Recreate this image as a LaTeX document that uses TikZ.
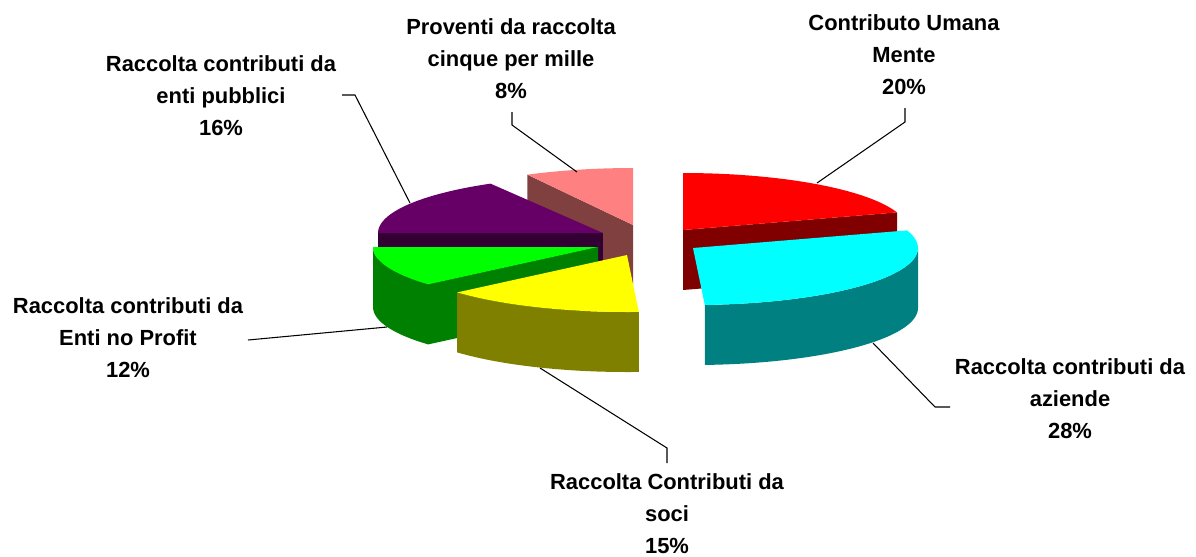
\documentclass[tikz,border=0pt]{standalone}
\usepackage{fontspec}
\setmainfont{Liberation Sans}
\definecolor{pinktop}{HTML}{FF8080}
\definecolor{pinkside}{HTML}{804040}
\definecolor{redtop}{HTML}{FF0000}
\definecolor{redside}{HTML}{800000}
\definecolor{purtop}{HTML}{660066}
\definecolor{purside}{HTML}{330033}
\definecolor{grntop}{HTML}{00FF00}
\definecolor{grnside}{HTML}{008000}
\definecolor{yeltop}{HTML}{FFFF00}
\definecolor{yelside}{HTML}{808000}
\definecolor{cyntop}{HTML}{00FFFF}
\definecolor{cynside}{HTML}{008080}
\begin{document}
\begin{tikzpicture}[x=0.02cm,y=-0.02cm,
  lbl/.style={font=\fontsize{12.47}{18.2}\selectfont\bfseries, align=center, inner sep=0pt},
  leader/.style={draw=black, line width=0.6pt}]
\useasboundingbox (0,0) rectangle (1196,556);

% ---- pink slice (apex 633,225) ----
\fill[pinkside] (633,225) -- ({633+225*sin(332)},{225-57*cos(332)}) -- ({633+225*sin(332)},{285-57*cos(332)}) -- (633,285) -- cycle;
\fill[pinktop] (633,225) -- plot[domain=332:360,samples=20] ({633+225*sin(\x)},{225-57*cos(\x)}) -- cycle;

% ---- red slice (apex 683,230) ----
\fill[redside] (683,230) -- ({683+225*sin(72)},{230-57*cos(72)}) -- ({683+225*sin(72)},{290-57*cos(72)}) -- (683,290) -- cycle;
\fill[redtop] (683,230) -- plot[domain=0:72,samples=30] ({683+225*sin(\x)},{230-57*cos(\x)}) -- cycle;

% ---- purple slice (apex 603,233) ----
\fill[purside] (603,233) -- (378,233) -- (378,293) -- (603,293) -- cycle;
\fill[purtop] (603,233) -- plot[domain=270:330,samples=30] ({603+225*sin(\x)},{233-57*cos(\x)}) -- cycle;

% ---- green slice (apex 598,247) ----
\fill[grnside] plot[domain=229:270,samples=25] ({598+225*sin(\x)},{247-57*cos(\x)}) -- plot[domain=270:229,samples=25] ({598+225*sin(\x)},{307-57*cos(\x)}) -- cycle;
\fill[grnside] (598,247) -- ({598+225*sin(229)},{247-57*cos(229)}) -- ({598+225*sin(229)},{307-57*cos(229)}) -- (598,307) -- cycle;
\fill[grntop] (598,247) -- plot[domain=229:270,samples=25] ({598+225*sin(\x)},{247-57*cos(\x)}) -- cycle;

% ---- yellow slice (apex 627,255) ----
\fill[yelside] plot[domain=177:229,samples=25] ({627+225*sin(\x)},{255-57*cos(\x)}) -- plot[domain=229:177,samples=25] ({627+225*sin(\x)},{315-57*cos(\x)}) -- cycle;
\fill[yeltop] (627,255) -- plot[domain=177:229,samples=25] ({627+225*sin(\x)},{255-57*cos(\x)}) -- cycle;

% ---- cyan slice (apex 693,248) ----
\fill[cynside] plot[domain=90:177,samples=35] ({693+225*sin(\x)},{248-57*cos(\x)}) -- plot[domain=177:90,samples=35] ({693+225*sin(\x)},{308-57*cos(\x)}) -- cycle;
\fill[cyntop] (693,248) -- plot[domain=72:177,samples=40] ({693+225*sin(\x)},{248-57*cos(\x)}) -- cycle;

% ---- labels ----
\node[lbl] (lpub) at (221,96) {Raccolta contributi da\\enti pubblici\\16\%};
\node[lbl] (lcin) at (511,59) {Proventi da raccolta\\cinque per mille\\8\%};
\node[lbl] (lum) at (904,55) {Contributo Umana\\Mente\\20\%};
\node[lbl] (laz) at (1070,399) {Raccolta contributi da\\aziende\\28\%};
\node[lbl] (lsoc) at (667,514) {Raccolta Contributi da\\soci\\15\%};
\node[lbl] (lnp) at (128,338) {Raccolta contributi da\\Enti no Profit\\12\%};

% ---- leader lines ----
\coordinate (a1) at (342,95);  \coordinate (b1) at (355,95);  \coordinate (c1) at (410,203);
\coordinate (a2) at (512,112); \coordinate (b2) at (512,125); \coordinate (c2) at (577,172);
\coordinate (a3) at (905,108); \coordinate (b3) at (905,122); \coordinate (c3) at (817,183);
\coordinate (a4) at (950,407); \coordinate (b4) at (935,407); \coordinate (c4) at (873,343);
\coordinate (a5) at (667,463); \coordinate (b5) at (667,448); \coordinate (c5) at (540,368);
\coordinate (a6) at (248,340); \coordinate (c6) at (387,327);
\draw[leader] (a1) -- (b1) -- (c1);
\draw[leader] (a2) -- (b2) -- (c2);
\draw[leader] (a3) -- (b3) -- (c3);
\draw[leader] (a4) -- (b4) -- (c4);
\draw[leader] (a5) -- (b5) -- (c5);
\draw[leader] (a6) -- (c6);
\end{tikzpicture}
\end{document}
